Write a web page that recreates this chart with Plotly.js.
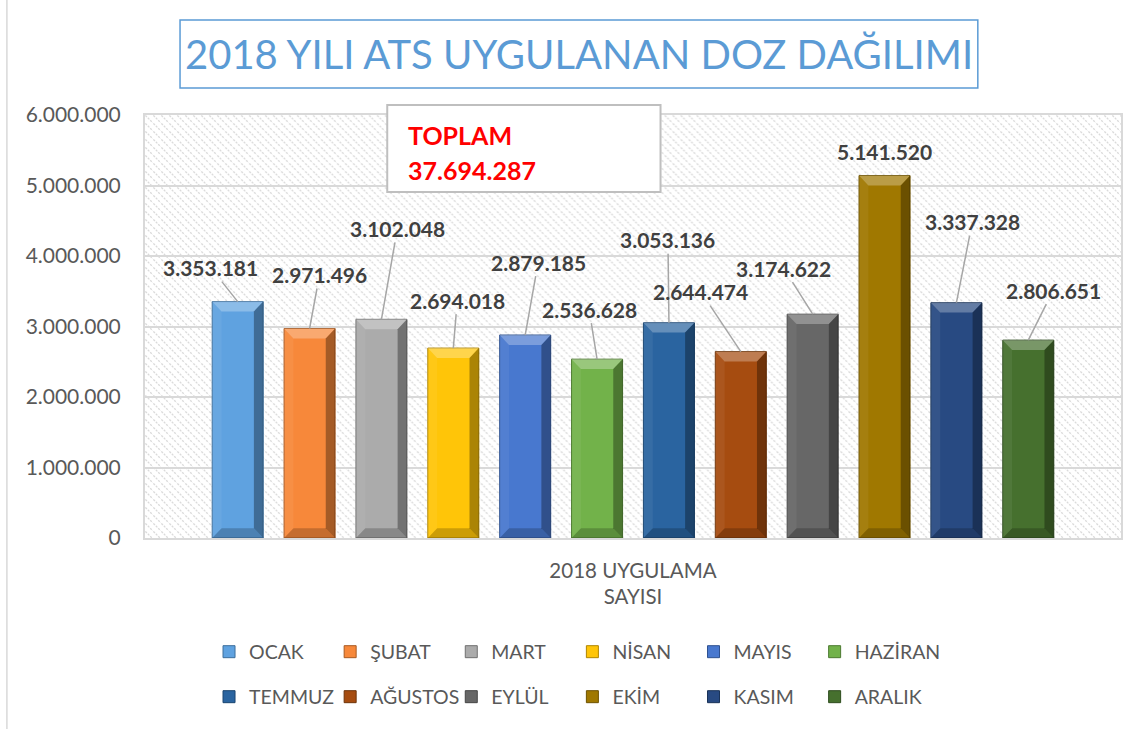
<!DOCTYPE html>
<html>
<head>
<meta charset="utf-8">
<script src="https://cdn.plot.ly/plotly-3.0.1.min.js"></script>
<style>html,body{margin:0;padding:0;background:#fff;}#chart{width:1139px;height:729px;}</style>
</head>
<body>
<div id="chart"></div>
<script>
// ---- data ----
var months = ['OCAK','ŞUBAT','MART','NİSAN','MAYIS','HAZİRAN','TEMMUZ','AĞUSTOS','EYLÜL','EKİM','KASIM','ARALIK'];
var doses = [3353181, 2971496, 3102048, 2694018, 2879185, 2536628, 3053136, 2644474, 3174622, 5141520, 3337328, 2806651];
var categoryLabel = '2018 UYGULAMA<br>SAYISI';
var chartTitle = '2018 YILI ATS UYGULANAN DOZ DAĞILIMI';
var totalLabel = 'TOPLAM';
var yTickVals = [0, 1000000, 2000000, 3000000, 4000000, 5000000, 6000000];

// ---- styles ----
var colors = ['#5fa2e0','#f7883a','#ababab','#ffc508','#4878cf','#72b24a','#2a64a0','#a64c10','#676767','#a07800','#284a82','#46702e'];
var edgeColors = ['#3d6f9c','#a85a22','#707070','#b08500','#2f5190','#4c7a30','#1a4570','#6e340a','#454545','#6e5300','#1a3358','#2e4c1e'];
var labelOffsets = [[-27,-34],[10,-54],[16,-91],[4,-48],[13,-73],[-8,-50],[-1,-83],[-40,-60],[-29,-46],[0,0],[16,-81],[25,-50]];
var FONT = 'Lato, "Open Sans", sans-serif';

function fmt(v){ return String(Math.round(v)).replace(/\B(?=(\d{3})+(?!\d))/g, '.'); }
var total = doses.reduce(function(a,b){return a+b;}, 0);

var barW = 0.71, hw = barW/2, dx = 0.13, dy = 140000;

var traces = months.map(function(m, i){
  return {
    type: 'bar', name: m, x: [i], y: [doses[i]], width: barW,
    marker: {color: colors[i], line: {color: edgeColors[i], width: 1}},
    legend: i === 0 ? 'legend' : 'legend' + (i+1),
    hoverinfo: 'name+y'
  };
});

var shapes = [];
// outer chart left border
shapes.push({type:'line', xref:'paper', yref:'paper', x0:-0.1415, x1:-0.1415, y0:-0.46, y1:1.28, line:{color:'#d9d9d9', width:1.5}});
// bevel overlays
doses.forEach(function(v, i){
  var L = i-hw, R = i+hw;
  function P(pts){ return 'M' + pts.map(function(p){return p[0]+','+p[1];}).join(' L') + ' Z'; }
  shapes.push({type:'path', xref:'x', yref:'y', path:P([[L,v],[R,v],[R-dx,v-dy],[L+dx,v-dy]]), fillcolor:'rgba(255,255,255,0.28)', line:{width:0}});
  shapes.push({type:'path', xref:'x', yref:'y', path:P([[R,v],[R,0],[R-dx,dy],[R-dx,v-dy]]), fillcolor:'rgba(0,0,0,0.33)', line:{width:0}});
  shapes.push({type:'path', xref:'x', yref:'y', path:P([[L,0],[R,0],[R-dx,dy],[L+dx,dy]]), fillcolor:'rgba(0,0,0,0.2)', line:{width:0}});
  shapes.push({type:'path', xref:'x', yref:'y', path:P([[L,v],[L,0],[L+dx,dy],[L+dx,v-dy]]), fillcolor:'rgba(255,255,255,0.06)', line:{width:0}});
});
// title box
shapes.push({type:'rect', xref:'paper', yref:'paper', x0:0.0359, x1:0.8533, y0:1.0638, y1:1.2246, line:{color:'#5b9bd5', width:1.5}, fillcolor:'rgba(0,0,0,0)'});
// total box
shapes.push({type:'rect', xref:'paper', yref:'paper', x0:0.2482, x1:0.5282, y0:0.818, y1:1.0236, line:{color:'#bfbfbf', width:2}, fillcolor:'#ffffff', layer:'above'});

var annotations = [];
doses.forEach(function(v, i){
  var o = labelOffsets[i];
  var a = {x:i, y:v, xref:'x', yref:'y', text: fmt(v), font:{family:FONT, size:21, color:'#404040', weight:'bold'}};
  if (o[0] === 0 && o[1] === 0) { a.showarrow = false; a.yanchor = 'bottom'; a.yshift = 10; }
  else { a.showarrow = true; a.arrowhead = 0; a.arrowwidth = 1.5; a.arrowcolor = '#a6a6a6'; a.ax = o[0]; a.ay = o[1]; a.standoff = 0; }
  annotations.push(a);
});
annotations.push({xref:'paper', yref:'paper', x:0.4446, y:1.1442, xanchor:'center', yanchor:'middle', text: chartTitle, showarrow:false, font:{family:FONT, size:40, color:'#5b9bd5'}});
annotations.push({xref:'paper', yref:'paper', x:0.2677, y:0.9527, xanchor:'left', yanchor:'middle', text: totalLabel, showarrow:false, font:{family:FONT, size:25, color:'#ff0000', weight:'bold'}});
annotations.push({xref:'paper', yref:'paper', x:0.2677, y:0.870, xanchor:'left', yanchor:'middle', text: fmt(total), showarrow:false, font:{family:FONT, size:25, color:'#ff0000', weight:'bold'}});

// hatch background
var svg = '<svg xmlns="http://www.w3.org/2000/svg" width="977" height="423"><defs><pattern id="h" patternUnits="userSpaceOnUse" width="8" height="8"><path d="M-2,-2 L10,10 M-2,6 L2,10 M6,-2 L10,2" stroke="#dadada" stroke-width="1.3" stroke-dasharray="2.2,1.2"/></pattern></defs><rect width="977" height="423" fill="#fff"/><rect width="977" height="423" fill="url(#h)"/></svg>';
var hatchSrc = 'data:image/svg+xml;charset=utf-8,' + encodeURIComponent(svg);

var layout = {
  width:1139, height:729,
  margin:{l:145, r:18, t:115, b:191},
  paper_bgcolor:'#ffffff', plot_bgcolor:'#ffffff',
  separators: ',.',
  barmode:'overlay',
  showlegend:true,
  font:{family:FONT, color:'#595959'},
  xaxis:{range:[-1.29, 12.29], tickvals:[5.5], ticktext:[categoryLabel], showgrid:false, zeroline:false,
         showline:true, mirror:true, linecolor:'#d9d9d9', linewidth:2, ticks:'', ticklabelstandoff:13, tickfont:{family:FONT, size:20.5, color:'#595959'}, fixedrange:true},
  yaxis:{range:[0, 6000000], tickvals:yTickVals, tickformat:',.0f', showgrid:true, gridcolor:'#d9d9d9', gridwidth:2, zeroline:false,
         showline:true, mirror:true, linecolor:'#d9d9d9', linewidth:2, ticks:'', ticklabelstandoff:18, tickfont:{family:FONT, size:21, color:'#595959'}, fixedrange:true},
  shapes: shapes,
  annotations: annotations,
  images:[{source:hatchSrc, xref:'paper', yref:'paper', x:0, y:1, sizex:1, sizey:1, sizing:'stretch', xanchor:'left', yanchor:'top', layer:'below'}]
};

// one legend box per month, laid out as a 6 x 2 grid
var legX0 = 0.0656, legDX = 0.1241, legRowY = [-0.2695, -0.3759];
months.forEach(function(m, i){
  var key = i === 0 ? 'legend' : 'legend' + (i+1);
  layout[key] = {orientation:'h', xanchor:'left', yanchor:'middle', x: legX0 + (i % 6) * legDX, y: legRowY[Math.floor(i/6)],
    font:{family:FONT, size:19.5, color:'#595959'}, bgcolor:'rgba(0,0,0,0)', itemclick:false, itemdoubleclick:false};
});

Plotly.newPlot('chart', traces, layout, {displayModeBar:false, staticPlot:false});
</script>
</body>
</html>
